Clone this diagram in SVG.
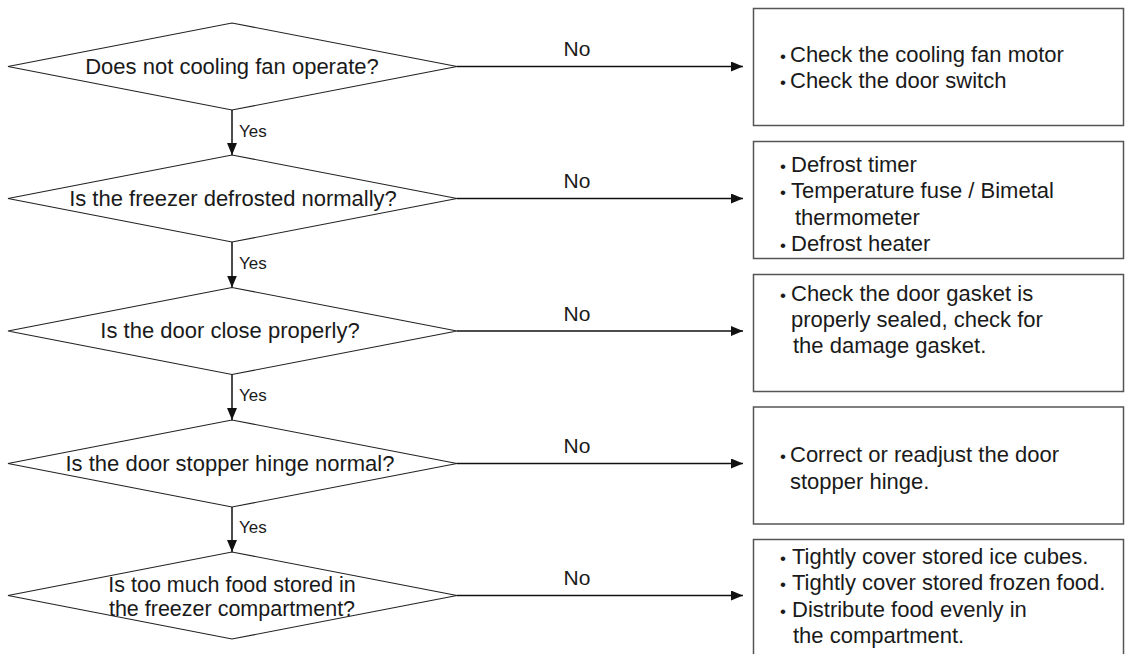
<svg xmlns="http://www.w3.org/2000/svg" width="1125" height="654" viewBox="0 0 1125 654">
<style>
  .dia{fill:none;stroke:#222;stroke-width:1.2}
  .box{fill:#fff;stroke:#555;stroke-width:1.5}
  .con{fill:none;stroke:#111;stroke-width:1.5}
  .q{font-family:"Liberation Sans",Arial,sans-serif;font-size:22px;fill:#1a1a1a;text-anchor:middle}
  .q5{font-family:"Liberation Sans",Arial,sans-serif;font-size:21.5px;fill:#1a1a1a;text-anchor:middle}
  .t{font-family:"Liberation Sans",Arial,sans-serif;font-size:22px;fill:#1a1a1a}
  .bul{font-family:"Liberation Sans",Arial,sans-serif;font-size:17px;fill:#1a1a1a;text-anchor:middle}
  .yes{font-family:"Liberation Sans",Arial,sans-serif;font-size:17px;fill:#1a1a1a}
  .no{font-family:"Liberation Sans",Arial,sans-serif;font-size:21px;fill:#1a1a1a;text-anchor:middle}
</style>
<defs>
  <marker id="arr" markerUnits="userSpaceOnUse" markerWidth="12" markerHeight="10" refX="12" refY="5" orient="auto">
    <path d="M0,0 L12,5 L0,10 z" fill="#111"/>
  </marker>
</defs>
<rect width="1125" height="654" fill="#fff"/>

<g id="connectors">
  <line class="con" x1="232" y1="110" x2="232" y2="155" marker-end="url(#arr)"/>
  <line class="con" x1="232" y1="242" x2="232" y2="287.5" marker-end="url(#arr)"/>
  <line class="con" x1="232" y1="374.5" x2="232" y2="420" marker-end="url(#arr)"/>
  <line class="con" x1="232" y1="507" x2="232" y2="552" marker-end="url(#arr)"/>
  <text class="yes" x="239" y="137">Yes</text>
  <text class="yes" x="239" y="269">Yes</text>
  <text class="yes" x="239" y="401">Yes</text>
  <text class="yes" x="239" y="533">Yes</text>
  <line class="con" x1="457" y1="66.5" x2="743" y2="66.5" marker-end="url(#arr)"/>
  <line class="con" x1="457" y1="198.5" x2="743" y2="198.5" marker-end="url(#arr)"/>
  <line class="con" x1="457" y1="331" x2="743" y2="331" marker-end="url(#arr)"/>
  <line class="con" x1="457" y1="463.5" x2="743" y2="463.5" marker-end="url(#arr)"/>
  <line class="con" x1="457" y1="595.5" x2="743" y2="595.5" marker-end="url(#arr)"/>
  <text class="no" x="577" y="56">No</text>
  <text class="no" x="577" y="188">No</text>
  <text class="no" x="577" y="321">No</text>
  <text class="no" x="577" y="453">No</text>
  <text class="no" x="577" y="585">No</text>
</g>

<g id="q1">
  <polygon class="dia" points="8,66.5 232,23 457,66.5 232,110"/>
  <text class="q" x="232" y="73.5">Does not cooling fan operate?</text>
</g>
<g id="q2">
  <polygon class="dia" points="8,198.5 232,155 457,198.5 232,242"/>
  <text class="q" x="233" y="206">Is the freezer defrosted normally?</text>
</g>
<g id="q3">
  <polygon class="dia" points="8,331 232,287.5 457,331 232,374.5"/>
  <text class="q" x="230" y="338">Is the door close properly?</text>
</g>
<g id="q4">
  <polygon class="dia" points="8,463.5 232,420 457,463.5 232,507"/>
  <text class="q" x="230" y="470.5">Is the door stopper hinge normal?</text>
</g>
<g id="q5">
  <polygon class="dia" points="8,595.5 232,552 457,595.5 232,639"/>
  <text class="q5" x="232" y="592">Is too much food stored in</text>
  <text class="q5" x="232" y="616">the freezer compartment?</text>
</g>

<g id="a1">
  <rect class="box" x="753.5" y="8.5" width="370" height="117"/>
  <text class="bul" x="783" y="62">•</text>
  <text class="t" x="790" y="62">Check the cooling fan motor</text>
  <text class="bul" x="783" y="88">•</text>
  <text class="t" x="790" y="88">Check the door switch</text>
</g>
<g id="a2">
  <rect class="box" x="753.5" y="141.5" width="370" height="117"/>
  <text class="bul" x="783" y="172">•</text>
  <text class="t" x="791" y="172">Defrost timer</text>
  <text class="bul" x="783" y="198">•</text>
  <text class="t" x="791" y="198">Temperature fuse / Bimetal</text>
  <text class="t" x="795" y="225">thermometer</text>
  <text class="bul" x="783" y="251">•</text>
  <text class="t" x="791" y="251">Defrost heater</text>
</g>
<g id="a3">
  <rect class="box" x="753.5" y="274.5" width="370" height="117"/>
  <text class="bul" x="783" y="301">•</text>
  <text class="t" x="791" y="301">Check the door gasket is</text>
  <text class="t" x="791" y="327">properly sealed, check for</text>
  <text class="t" x="793" y="353">the damage gasket.</text>
</g>
<g id="a4">
  <rect class="box" x="753.5" y="407" width="370" height="117"/>
  <text class="bul" x="783" y="462">•</text>
  <text class="t" x="790" y="462">Correct or readjust the door</text>
  <text class="t" x="790" y="489">stopper hinge.</text>
</g>
<g id="a5">
  <rect class="box" x="753.5" y="539.5" width="370" height="117"/>
  <text class="bul" x="783" y="564">•</text>
  <text class="t" x="792" y="564">Tightly cover stored ice cubes.</text>
  <text class="bul" x="783" y="590">•</text>
  <text class="t" x="792" y="590">Tightly cover stored frozen food.</text>
  <text class="bul" x="783" y="617">•</text>
  <text class="t" x="792" y="617">Distribute food evenly in</text>
  <text class="t" x="793" y="643">the compartment.</text>
</g>
</svg>
